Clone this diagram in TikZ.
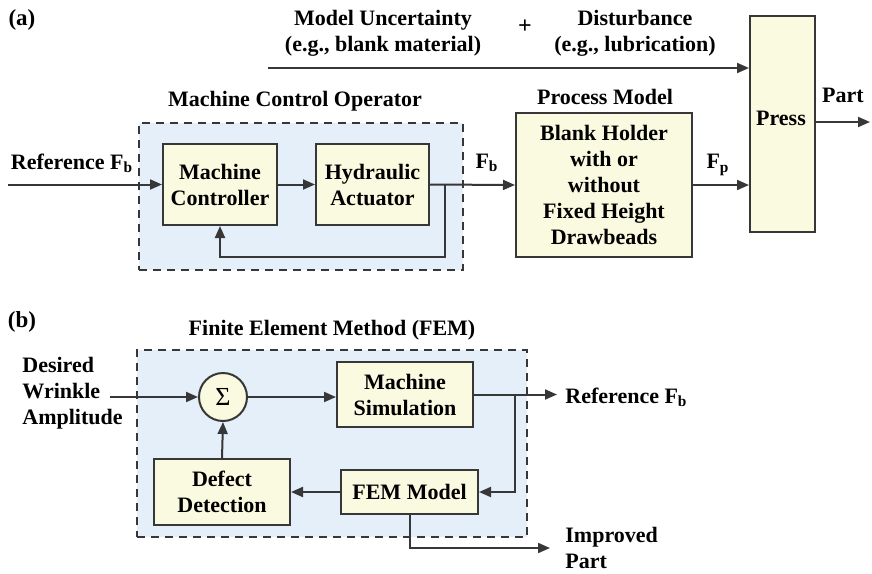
\documentclass[tikz,border=0pt]{standalone}
\usepackage{fontspec}
\setmainfont{Liberation Serif}
\usetikzlibrary{arrows.meta}

\definecolor{linec}{RGB}{55,55,55}
\definecolor{boxfill}{RGB}{250,250,224}
\definecolor{panelfill}{RGB}{229,239,250}

\tikzset{
  blk/.style={draw=linec, line width=1pt, fill=boxfill, align=center, inner sep=0pt},
  panel/.style={draw=linec, line width=1pt, dash pattern=on 4pt off 3pt, fill=panelfill, inner sep=0pt},
  arr/.style={draw=linec, line width=1pt, -{Triangle[length=6pt, width=5pt]}},
  lbl/.style={align=center, inner sep=0pt},
}

\begin{document}
\begin{tikzpicture}[x=0.5pt, y=-0.5pt, font=\bfseries\fontsize{11}{13}\selectfont]

  \useasboundingbox (0,0) rectangle (872,573);

  % ===== (a) =====
  \node[lbl, font=\bfseries\fontsize{11.5}{13}\selectfont] (taga) at (22,20) {(a)};

  % -- Uncertainty and disturbance --
  \node[lbl] (unc) at (383,33) {Model Uncertainty\\(e.g., blank material)};
  \node[lbl, font=\bfseries\fontsize{12}{13}\selectfont] (plus) at (525,27) {+};
  \node[lbl] (dist) at (635,33) {Disturbance\\(e.g., lubrication)};

  % -- Press --
  \node[blk, minimum width=32.5pt, minimum height=108pt] (press) at (782.5,124) {};
  \node[lbl] (presstxt) at (781,118) {Press};
  \coordinate (dstart) at (268,68);
  \draw[arr] (dstart) -- (dstart -| press.west);
  \coordinate (partend) at (870,122);
  \draw[arr] (partend -| press.east) -- (partend);
  \node[lbl] (part) at (843,95) {Part};

  % -- Machine control operator --
  \node[panel, minimum width=162pt, minimum height=73.5pt] (mco) at (301,196.5) {};
  \node[lbl] (mcolbl) at (295,101) {Machine Control Operator};
  \node[blk, minimum width=57pt, minimum height=40.5pt] (mc) at (220,184.5) {Machine\\Controller};
  \node[blk, minimum width=56.5pt, minimum height=40.5pt] (ha) at (372.5,184.5) {Hydraulic\\Actuator};

  % -- Process model --
  \node[blk, minimum width=88pt, minimum height=72pt] (proc) at (604,185)
    {Blank Holder\\with or\\without\\Fixed Height\\Drawbeads};
  \node[lbl] (proclbl) at (605,97) {Process Model};

  % -- Signals --
  \coordinate (refin) at (8,184.5);
  \draw[arr] (refin) -- (mc.west);
  \node[lbl] (reflbl) at (72,163) {Reference F\textsubscript{b}};
  \draw[arr] (mc.east) -- (ha.west);
  \draw[arr] (ha.east) -- (proc.west);
  \coordinate (tap) at (445,184.5);
  \draw[arr] (tap) -- ++(0,72.5) -| (mc.south);
  \node[lbl] (fb) at (487,163) {F\textsubscript{b}};
  \draw[arr] (proc.east) -- (proc.east -| press.west);
  \node[lbl] (fp) at (718,165) {F\textsubscript{p}};

  % ===== (b) =====
  \node[lbl, font=\bfseries\fontsize{11.5}{13}\selectfont] (tagb) at (22,322) {(b)};

  % -- FEM loop --
  \node[panel, minimum width=195pt, minimum height=93.5pt] (fem) at (332,443.5) {};
  \node[lbl] (femlbl) at (332,330) {Finite Element Method (FEM)};
  \node[blk, circle, minimum size=24pt, font=\fontsize{13}{13}\selectfont] (sum) at (223,397) {Σ};
  \node[blk, minimum width=68pt, minimum height=32.5pt] (msim) at (405,394.5) {Machine\\Simulation};
  \node[blk, minimum width=68.5pt, minimum height=22pt] (femm) at (409.5,492) {FEM Model};
  \node[blk, minimum width=68pt, minimum height=33pt] (defect) at (222,492) {Defect\\Detection};

  % -- Desired input --
  \node[lbl, anchor=west, align=left] (desired) at (22,393) {Desired\\Wrinkle\\Amplitude};
  \coordinate (din) at (110,397);
  \draw[arr] (din) -- (sum.west);
  \draw[arr] (sum.east) -- (sum.east -| msim.west);

  % -- Outputs and feedback --
  \coordinate (refout) at (557,394.5);
  \draw[arr] (msim.east) -- (refout);
  \node[lbl, anchor=west] (reflbl2) at (565,397) {Reference F\textsubscript{b}};
  \coordinate (tap2) at (515,394.5);
  \draw[arr] (tap2) |- (femm.east);
  \draw[arr] (femm.west) -- (defect.east);
  \draw[arr] (defect.north) -- (sum.south);
  \coordinate (impend) at (550,548);
  \draw[arr] (femm.south) |- (impend);
  \node[lbl, anchor=west, align=left] (improved) at (565,548) {Improved\\Part};

\end{tikzpicture}
\end{document}
